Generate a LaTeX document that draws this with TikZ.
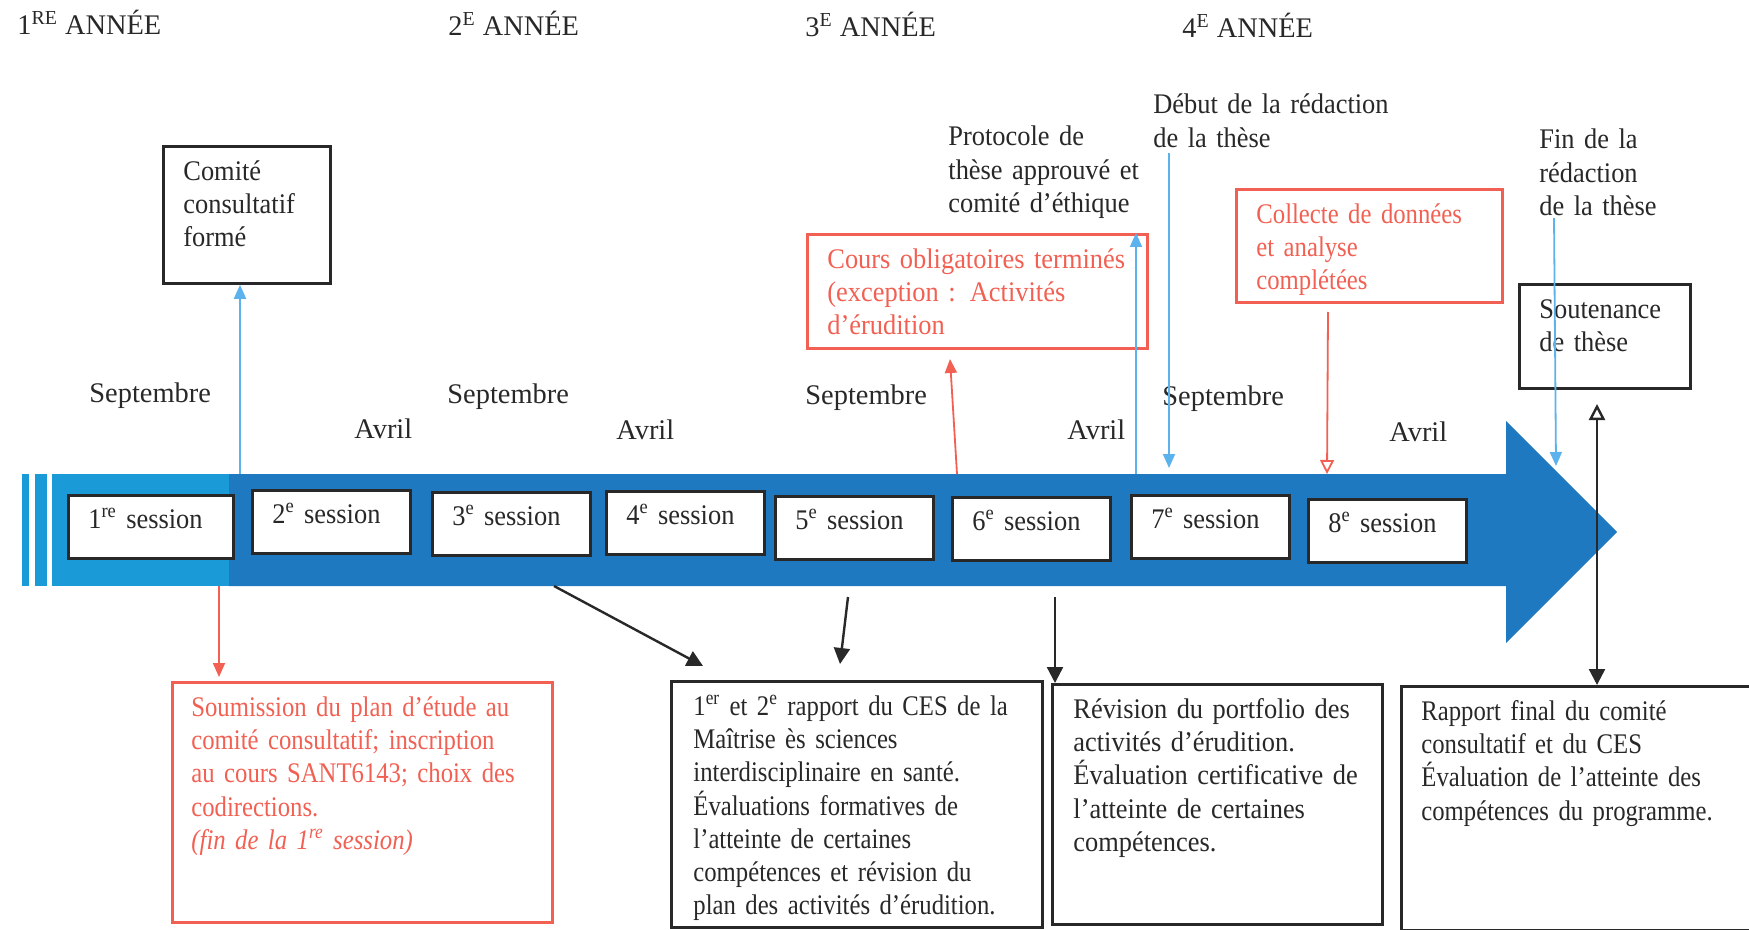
\documentclass[tikz,border=0pt]{standalone}
\usepackage{fontspec}
\setmainfont{Liberation Serif}
\newfontfamily\notefont[FakeStretch=0.93]{Liberation Serif}
\newfontfamily\narrowfont[FakeStretch=0.87]{Liberation Serif}
\usetikzlibrary{arrows.meta}
\definecolor{bandlight}{RGB}{27,154,216}
\definecolor{banddark}{RGB}{30,121,192}
\definecolor{notered}{RGB}{241,96,82}
\definecolor{linkblue}{RGB}{92,178,236}
\definecolor{inkgray}{RGB}{40,40,40}
\def\txtfont{\fontsize{14.2}{16.6}\selectfont}
\tikzset{
	txt/.style={font=\txtfont, text=inkgray, inner sep=0pt, anchor=base west, align=left},
	sessbox/.style={draw=inkgray, line width=1.3pt, fill=white, anchor=north west, font=\notefont\txtfont, text=inkgray,
		text width=59pt, inner xsep=10pt, inner ysep=6.5pt, text height=10pt, text depth=8.5pt},
	notebox/.style={draw=inkgray, line width=1.4pt, fill=white, anchor=north west, align=left, font=\notefont\txtfont,
		text=inkgray, inner xsep=10pt, inner ysep=7pt, text height=10pt},
	rednote/.style={notebox, draw=notered, text=notered},
	bluelink/.style={linkblue, line width=0.9pt, -{Triangle[length=7pt,width=6pt]}},
	redlink/.style={notered, line width=0.9pt, -{Triangle[length=7pt,width=6pt]}},
	blacklink/.style={inkgray, line width=1.2pt, -{Triangle[length=8pt,width=8pt]}}
}

\begin{document}
\begin{tikzpicture}[x=0.5pt,y=-0.5pt]
			%%%%% START %%%%%
			\useasboundingbox (0,0) rectangle (1749,930);
			
			% years
			\node[txt] (an1) at (17,35) {1\textsuperscript{RE} ANNÉE};
			\node[txt] (an2) at (448,36) {2\textsuperscript{E} ANNÉE};
			\node[txt] (an3) at (805,37) {3\textsuperscript{E} ANNÉE};
			\node[txt] (an4) at (1182,38) {4\textsuperscript{E} ANNÉE};
			
			% months
			\node[txt] (sep1) at (89,402) {Septembre};
			\node[txt] (avr1) at (354,438) {Avril};
			\node[txt] (sep2) at (447,403) {Septembre};
			\node[txt] (avr2) at (616,439) {Avril};
			\node[txt] (sep3) at (805,404) {Septembre};
			\node[txt] (avr3) at (1067,439) {Avril};
			\node[txt] (sep4) at (1162,405) {Septembre};
			\node[txt] (avr4) at (1389,441) {Avril};
			
			% band
			\fill[bandlight] (22,474) rectangle (29,586);
			\fill[bandlight] (35,474) rectangle (47,586);
			\fill[bandlight] (52,474) rectangle (229,586);
			\fill[banddark] (229,474) -- (1506,474) -- (1506,421) -- (1617,532) -- (1506,643) -- (1506,586) -- (229,586) -- cycle;
			
			% sessions
			\node[sessbox, text width=62.5pt] (s1) at (67,494) {1\textsuperscript{re} session};
			\node[sessbox] (s2) at (251,489) {2\textsuperscript{e} session};
			\node[sessbox] (s3) at (431,491) {3\textsuperscript{e} session};
			\node[sessbox] (s4) at (605,490) {4\textsuperscript{e} session};
			\node[sessbox] (s5) at (774,495) {5\textsuperscript{e} session};
			\node[sessbox] (s6) at (951,496) {6\textsuperscript{e} session};
			\node[sessbox] (s7) at (1130,494) {7\textsuperscript{e} session};
			\node[sessbox] (s8) at (1307,498) {8\textsuperscript{e} session};
			
			% upper notes
			\node[notebox, text width=63.5pt, text depth=44.5pt] (com) at (162,145) {Comité\\consultatif\\formé};
			\node[rednote, text width=150pt, text depth=33pt] (cours) at (806,233) {Cours obligatoires terminés\\(exception : Activités\\d’érudition};
			\node[rednote, font=\narrowfont\txtfont, text width=113pt, text depth=32.5pt] (coll) at (1235,188) {Collecte de données\\et analyse\\complétées};
			\node[notebox, text width=65.5pt, text depth=28pt] (sout) at (1518,283) {Soutenance\\de thèse};
			\node[txt, font=\notefont\txtfont, text width=100pt] (prot) at (948,146) {Protocole de\\thèse approuvé et\\comité d’éthique};
			\node[txt, font=\notefont\txtfont, text width=120pt] (debut) at (1153,114) {Début de la rédaction\\de la thèse};
			\node[txt, font=\notefont\txtfont, text width=80pt] (finred) at (1539,149) {Fin de la\\rédaction\\de la thèse};
			
			% lower notes
			\node[rednote, font=\narrowfont\txtfont, inner xsep=9.5pt, text width=171pt, text depth=96pt] (soum) at (171,681) {Soumission du plan d’étude au\\comité consultatif; inscription\\au cours SANT6143; choix des\\codirections.\\\textit{(fin de la 1\textsuperscript{re} session)}};
			\node[notebox, font=\narrowfont\txtfont, inner xsep=11pt, text width=163.5pt, text depth=99pt] (ces) at (670,680) {1\textsuperscript{er} et 2\textsuperscript{e} rapport du CES de la\\Maîtrise ès sciences\\interdisciplinaire en santé.\\Évaluations formatives de\\l’atteinte de certaines\\compétences et révision du\\plan des activités d’érudition.};
			\node[notebox, inner xsep=10.5pt, text width=144pt, text depth=96pt] (rev) at (1051,683) {Révision du portfolio des\\activités d’érudition.\\Évaluation certificative de\\l’atteinte de certaines\\compétences.};
			\node[notebox, font=\narrowfont\txtfont, text width=160pt, text depth=98pt] (fin) at (1400,685) {Rapport final du comité\\consultatif et du CES\\Évaluation de l’atteinte des\\compétences du programme.};
			
			% link ends
			\coordinate (c1) at (240,474);
			\coordinate (r1) at (219,586);
			\coordinate (k1) at (554,586);
			\coordinate (k1e) at (703,666);
			\coordinate (k2) at (848,597);
			\coordinate (k2e) at (840,664);
			\coordinate (k3) at (1055,597);
			\coordinate (r2) at (957,474);
			\coordinate (r2e) at (950,359);
			\coordinate (b2) at (1136,474);
			\coordinate (b3) at (1169,153);
			\coordinate (b3e) at (1169,468);
			\coordinate (r3) at (1328,312);
			\coordinate (r3e) at (1327,474);
			\coordinate (b4) at (1554,218);
			\coordinate (b4e) at (1556,466);
			\coordinate (k4) at (1597,404);
			
			% links
			\draw[bluelink] (c1) -- (c1 |- com.south);
			\draw[redlink, shorten >=2pt] (r1) -- (r1 |- soum.north);
			\draw[blacklink] (k1) -- (k1e);
			\draw[blacklink] (k2) -- (k2e);
			\draw[blacklink] (k3) -- (k3 |- rev.north);
			\draw[redlink] (r2) -- (r2e);
			\draw[bluelink] (b2) -- (b2 |- cours.north);
			\draw[bluelink] (b3) -- (b3e);
			\draw[redlink, -{Triangle[open,length=7pt,width=7pt]}] (r3) -- (r3e);
			\draw[bluelink] (b4) -- (b4e);
			\draw[blacklink, {Triangle[open,length=8pt,width=8pt]}-{Triangle[length=8pt,width=8pt]}] (k4) -- (k4 |- fin.north);
			%%%%% END %%%%%
\end{tikzpicture}
\end{document}
